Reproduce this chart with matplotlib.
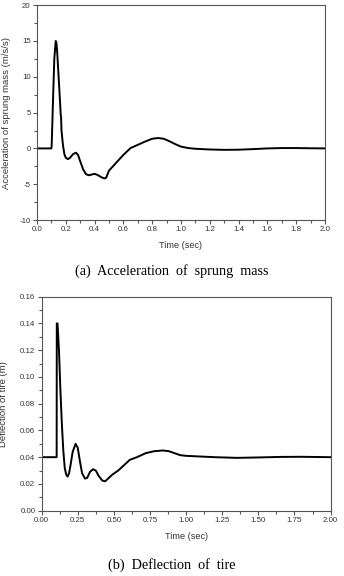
import matplotlib
matplotlib.use("Agg")
import matplotlib.pyplot as plt
from matplotlib.ticker import MultipleLocator, FormatStrFormatter

# (a) acceleration of sprung mass
t_acc = [0.0, 0.10, 0.102, 0.11, 0.12, 0.13, 0.135, 0.14, 0.15, 0.16, 0.165, 0.167,
         0.17, 0.18, 0.19, 0.20, 0.215, 0.23, 0.25, 0.27, 0.285, 0.30, 0.32, 0.34,
         0.36, 0.38, 0.40, 0.42, 0.45, 0.47, 0.48, 0.50, 0.55, 0.60, 0.65, 0.70,
         0.75, 0.80, 0.84, 0.88, 0.92, 0.96, 1.00, 1.05, 1.10, 1.20, 1.30, 1.40,
         1.50, 1.60, 1.70, 1.80, 1.90, 2.00]
acc = [0.0, 0.0, 0.5, 6.0, 12.5, 15.0, 14.7, 13.5, 10.0, 6.5, 4.6, 4.5,
       2.5, 0.5, -0.8, -1.3, -1.5, -1.3, -0.8, -0.6, -0.9, -1.8, -2.9, -3.6,
       -3.75, -3.65, -3.55, -3.7, -4.05, -4.2, -4.1, -3.1, -2.0, -0.9, 0.05, 0.5,
       0.95, 1.35, 1.45, 1.35, 1.0, 0.6, 0.25, 0.05, -0.05, -0.15, -0.2, -0.18,
       -0.1, 0.0, 0.05, 0.05, 0.02, 0.0]

# (b) deflection of tire
t_def = [0.0, 0.104, 0.105, 0.11, 0.12, 0.13, 0.14, 0.15, 0.16, 0.17, 0.18, 0.19,
         0.20, 0.215, 0.235, 0.25, 0.265, 0.28, 0.30, 0.315, 0.335, 0.355, 0.375,
         0.395, 0.42, 0.44, 0.46, 0.49, 0.53, 0.57, 0.61, 0.66, 0.72, 0.78, 0.84,
         0.88, 0.92, 0.96, 1.00, 1.10, 1.20, 1.35, 1.50, 1.65, 1.80, 2.00]
defl = [0.040, 0.040, 0.140, 0.140, 0.120, 0.090, 0.065, 0.045, 0.032, 0.027, 0.0255, 0.028,
        0.034, 0.044, 0.050, 0.047, 0.037, 0.028, 0.024, 0.0245, 0.029, 0.031, 0.030,
        0.026, 0.0225, 0.022, 0.024, 0.027, 0.030, 0.034, 0.038, 0.040, 0.043, 0.0445, 0.045,
        0.0445, 0.043, 0.0415, 0.041, 0.0405, 0.040, 0.0395, 0.0398, 0.0402, 0.0403, 0.040]

plt.rcParams['font.family'] = ['Liberation Sans', 'DejaVu Sans']

fig = plt.figure(figsize=(3.44, 5.76), dpi=100)
ax1 = fig.add_axes([0.1076, 0.618, 0.837, 0.373])
ax2 = fig.add_axes([0.121, 0.1134, 0.840, 0.3715])

grey = '#555555'
txt = '#333333'


def style(ax, xmaj, xmin, ymaj, ymin, xfmt, yfmt):
    ax.xaxis.set_major_locator(MultipleLocator(xmaj))
    ax.xaxis.set_minor_locator(MultipleLocator(xmin))
    ax.yaxis.set_major_locator(MultipleLocator(ymaj))
    ax.yaxis.set_minor_locator(MultipleLocator(ymin))
    ax.xaxis.set_major_formatter(FormatStrFormatter(xfmt))
    ax.yaxis.set_major_formatter(FormatStrFormatter(yfmt))
    ax.tick_params(which='both', direction='out', colors=grey, labelsize=5.7,
                   width=0.8, pad=1.5, labelcolor=txt)
    ax.tick_params(which='major', length=3)
    ax.tick_params(which='minor', length=2)
    for s in ax.spines.values():
        s.set_color(grey)
        s.set_linewidth(0.8)


ax1.plot(t_acc, acc, color='black', lw=1.4)
ax1.set_xlim(0, 2.0)
ax1.set_ylim(-10, 20)
style(ax1, 0.2, 0.1, 5, 2.5, '%.1f', '%d')
ax1.set_xlabel('Time (sec)', fontsize=6.6, color=txt, labelpad=5.5)
ax1.set_ylabel('Acceleration of sprung mass (m/s/s)', fontsize=6.8, color=txt)
ax1.yaxis.set_label_coords(-0.09, 0.5)

ax2.plot(t_def, defl, color='black', lw=1.4)
ax2.set_xlim(0, 2.0)
ax2.set_ylim(0, 0.16)
style(ax2, 0.25, 0.125, 0.02, 0.01, '%.2f', '%.2f')
ax2.set_xlabel('Time (sec)', fontsize=6.6, color=txt, labelpad=5.5)
ax2.set_ylabel('Deflection of tire (m)', fontsize=6.8, color=txt)
ax2.yaxis.set_label_coords(-0.115, 0.5)

fig.text(0.5, 1 - 271 / 576, '(a)  Acceleration  of  sprung  mass', ha='center', va='center',
         fontsize=10.2, family='Liberation Serif')
fig.text(0.5, 1 - 565 / 576, '(b)  Deflection  of  tire', ha='center', va='center',
         fontsize=10.2, family='Liberation Serif')

fig.savefig('out.png', dpi=100)
